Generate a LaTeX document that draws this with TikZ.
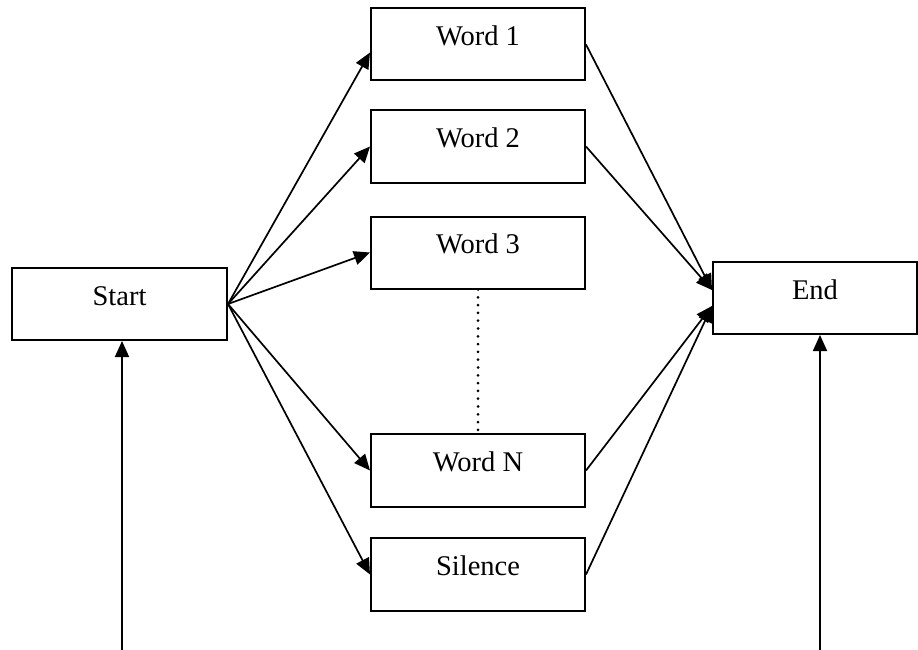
\documentclass[tikz,border=0pt]{standalone}
\usepackage{fontspec}
\setmainfont{Liberation Serif}
\usetikzlibrary{arrows.meta,calc}
\begin{document}
\begin{tikzpicture}[x=1pt,y=-1pt,
  box/.style={draw,line width=2pt,rectangle,inner xsep=0pt,inner ysep=0pt,
    minimum width=214pt,text height=37pt,text depth=35pt,
    font=\fontsize{28.5}{34}\selectfont},
  link/.style={line width=1.7pt},
  arr/.style={link,-{Triangle[length=16pt,width=14pt]}}]
\useasboundingbox (0,0) rectangle (918,650);

% start and end states
\node[box,minimum width=215pt] (start) at (119.5,304) {Start};
\node[box,minimum width=204pt] (end) at (815,298) {End};

% word models
\node[box] (w1) at (478,44.5) {Word 1};
\node[box] (w2) at (478,146.5) {Word 2};
\node[box] (w3) at (478,252.5) {Word 3};
\node[box,text depth=36pt] (wn) at (478,470.5) {Word N};
\node[box,text depth=36pt] (sil) at (478,574.5) {Silence};

% entry branches
\draw[arr] (start.east) -- ($(w1.west)+(0,8)$);
\draw[arr] (start.east) -- (w2.west);
\draw[arr] (start.east) -- (w3.west);
\draw[arr] (start.east) -- (wn.west);
\draw[arr] (start.east) -- (sil.west);

% exit branches
\coordinate (endup) at ($(end.west)+(0,-8)$);
\coordinate (endlo) at ($(end.west)+(0,8)$);
\draw[arr] (w1.east) -- (endup);
\draw[arr] (w2.east) -- (endup);
\draw[arr] (wn.east) -- (endlo);
\draw[arr] (sil.east) -- (endlo);

% remaining words
\draw[line width=3pt,line cap=round,dash pattern=on 0pt off 7.8pt]
  (w3.south) -- (wn.north);

% loop-back feeds from below
\coordinate (sfeed) at (122,650);
\coordinate (efeed) at (820,650);
\draw[arr] (sfeed) -- (sfeed |- start.south);
\draw[arr] (efeed) -- (efeed |- end.south);
\end{tikzpicture}
\end{document}
